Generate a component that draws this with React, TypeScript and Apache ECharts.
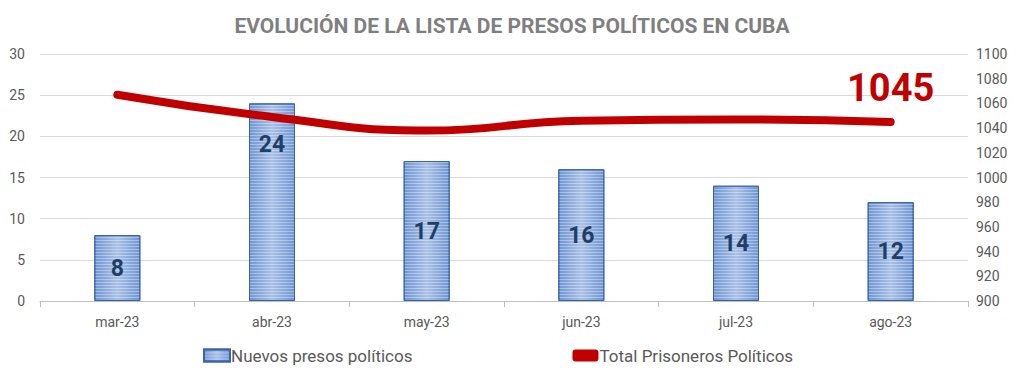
import React, { useEffect, useRef } from "react";
import * as echarts from "echarts";

const categories = ["mar-23", "abr-23", "may-23", "jun-23", "jul-23", "ago-23"];
const nuevos = [8, 24, 17, 16, 14, 12];
const total = [1067, 1049, 1038, 1046, 1047, 1045];
const leftTicks = { min: 0, max: 30, interval: 5 };
const rightTicks = { min: 900, max: 1100, interval: 20 };

export default function App() {
  const ref = useRef<HTMLDivElement>(null);
  useEffect(() => {
    document.body.style.margin = "0";
    const chart = echarts.init(ref.current!, null, { renderer: "svg" });
    const font = "Roboto, 'Liberation Sans', sans-serif";
    chart.setOption({
      animation: false,
      textStyle: { fontFamily: font },
      title: {
        text: "EVOLUCIÓN DE LA LISTA DE PRESOS POLÍTICOS EN CUBA",
        left: "center",
        top: 10,
        textStyle: { fontSize: 21, fontWeight: "bold", color: "#7f7f7f", fontFamily: font },
      },
      legend: {
        bottom: 9,
        left: 198,
        itemGap: 160,
        itemWidth: 26,
        itemHeight: 12,
        textStyle: { fontSize: 17, color: "#595959", padding: [0, 0, 0, -4] },
        data: [
          { name: "Nuevos presos políticos", icon: "rect" },
          { name: "Total Prisoneros Políticos", icon: "roundRect", itemStyle: { color: "#c00000" } },
        ],
      },
      grid: { left: 40, right: 56, top: 54, bottom: 77 },
      xAxis: {
        type: "category",
        data: categories,
        boundaryGap: true,
        axisLine: { lineStyle: { color: "#bfbfbf" } },
        axisTick: { show: true, alignWithLabel: false, length: 6, lineStyle: { color: "#bfbfbf" } },
        axisLabel: { fontSize: 14, color: "#595959", margin: 14 },
      },
      yAxis: [
        {
          type: "value",
          ...leftTicks,
          axisLine: { show: false },
          axisTick: { show: false },
          splitLine: { lineStyle: { color: "#d9d9d9" } },
          axisLabel: { fontSize: 14, color: "#595959", margin: 15 },
        },
        {
          type: "value",
          ...rightTicks,
          position: "right",
          axisLine: { show: false },
          axisTick: { show: false },
          splitLine: { show: false },
          axisLabel: { fontSize: 14, color: "#595959", margin: 8, formatter: (v: number) => String(v) },
        },
      ],
      series: [
        {
          name: "Nuevos presos políticos",
          type: "bar",
          yAxisIndex: 0,
          barWidth: 46,
          data: nuevos.map((v, i) =>
            i === 1
              ? { value: v, label: { position: ["50%", 41] } }
              : { value: v }
          ),
          itemStyle: {
            color: {
              type: "linear",
              x: 0, y: 0, x2: 1, y2: 0,
              colorStops: [
                { offset: 0, color: "#6f96d2" },
                { offset: 0.5, color: "#a9c0e6" },
                { offset: 1, color: "#6f96d2" },
              ],
            },
            borderColor: "#3a63a8",
            borderWidth: 1,
            decal: {
              symbol: "rect",
              symbolSize: 1,
              dashArrayX: [1, 0],
              dashArrayY: [1, 2],
              color: "rgba(255,255,255,0.35)",
            },
          },
          label: {
            show: true,
            position: "inside",
            align: "center",
            verticalAlign: "middle",
            fontSize: 23,
            fontWeight: "bold",
            color: "#1f3f66",
          },
        },
        {
          name: "Total Prisoneros Políticos",
          type: "line",
          yAxisIndex: 1,
          smooth: 0.5,
          symbol: "none",
          data: total.map((v, i) =>
            i === total.length - 1
              ? {
                  value: v,
                  symbol: "circle",
                  symbolSize: 1,
                  label: {
                    show: true,
                    position: "top",
                    distance: 14,
                    fontSize: 38,
                    fontWeight: "bold",
                    color: "#c00000",
                  },
                }
              : v
          ),
          lineStyle: { color: "#c00000", width: 8, cap: "round" },
          itemStyle: { color: "#c00000" },
        },
      ],
    });
    return () => chart.dispose();
  }, []);
  return <div ref={ref} style={{ width: 1024, height: 378 }} />;
}
